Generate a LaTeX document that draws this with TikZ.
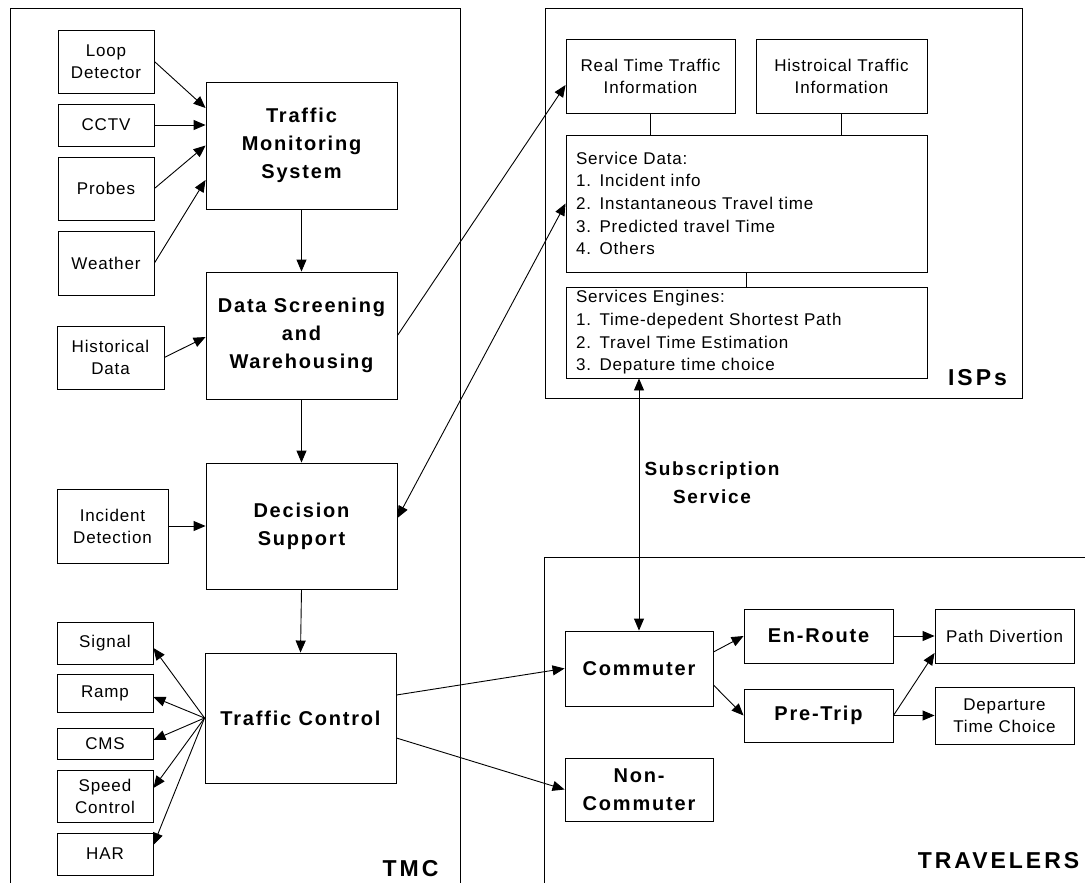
\documentclass[tikz,border=0pt]{standalone}
\usepackage{fontspec}
\setmainfont{Liberation Sans}[LetterSpace=5]
\newfontfamily\titlefont{Liberation Sans}[LetterSpace=9]
\newfontfamily\framefont{Liberation Sans}[LetterSpace=13]
\usetikzlibrary{arrows.meta}

\begin{document}
\begin{tikzpicture}[x=1pt, y=-1pt, >={Triangle[length=12pt,width=10pt]}, line width=0.9pt,
  box/.style={draw, align=center, inner sep=0pt, font=\fontsize{17}{22}\selectfont},
  bigbox/.style={draw, align=center, inner sep=0pt, font=\titlefont\bfseries\fontsize{20}{28}\selectfont},
  listbox/.style={draw, align=left, inner xsep=10pt, inner ysep=0pt, text width=341pt, font=\fontsize{17}{22.7}\selectfont},
  framelabel/.style={inner sep=0pt, font=\framefont\bfseries\fontsize{23}{28}\selectfont}]
\useasboundingbox (0,0) rectangle (1085,883);
\draw (10,883) |- (460,8) -- (460,883);
\draw (545,8) rectangle (1022,398);
\draw (544,883) |- (1085,557);
\node[framelabel] (tmclabel) at (410.5,869) {TMC};
\node[framelabel] (isplabel) at (977.5,378) {ISPs};
\node[framelabel] (travlabel) at (998.5,860.5) {TRAVELERS};

\node[box, minimum width=96pt, minimum height=63pt] (loop) at (106,61.5) {Loop\\Detector};
\node[box, minimum width=96pt, minimum height=42pt] (cctv) at (106,125) {CCTV};
\node[box, minimum width=96pt, minimum height=63pt] (probes) at (106,188.5) {Probes};
\node[box, minimum width=96pt, minimum height=64pt] (weather) at (106,263) {Weather};
\node[box, minimum width=107pt, minimum height=63pt] (hist) at (110.5,357.5) {Historical\\Data};
\node[box, minimum width=111pt, minimum height=74pt] (incident) at (112.5,526) {Incident\\Detection};
\node[box, minimum width=96pt, minimum height=42pt] (signal) at (105,643) {Signal};
\node[box, minimum width=96pt, minimum height=38pt] (ramp) at (105,693) {Ramp};
\node[box, minimum width=96pt, minimum height=31pt] (cms) at (105,743.5) {CMS};
\node[box, minimum width=96pt, minimum height=52pt] (speed) at (105,796) {Speed\\Control};
\node[box, minimum width=96pt, minimum height=42pt] (har) at (105,854) {HAR};

\node[bigbox, minimum width=191pt, minimum height=127pt] (tms) at (301.5,145.5) {Traffic\\Monitoring\\System};
\node[bigbox, minimum width=191pt, minimum height=127pt] (dsw) at (301.5,335.5) {Data Screening\\and\\Warehousing};
\node[bigbox, minimum width=191pt, minimum height=126pt] (ds) at (301.5,526) {Decision\\Support};
\node[bigbox, minimum width=191pt, minimum height=130pt] (tc) at (300.5,718) {Traffic Control};

\node[box, minimum width=169pt, minimum height=74pt] (rt) at (650.5,76) {Real Time Traffic\\Information};
\node[box, minimum width=171pt, minimum height=74pt] (hi) at (841.5,76) {Histroical Traffic\\Information};
\node[listbox, minimum height=137pt] (sd) at (746.5,203.5) {Service Data:\\1. Incident info\\2. Instantaneous Travel time\\3. Predicted travel Time\\4. Others};
\node[listbox, minimum height=91pt] (se) at (746.5,332.5) {Services Engines:\\1. Time-depedent Shortest Path\\2. Travel Time Estimation\\3. Depature time choice};

\node[bigbox, minimum width=148pt, minimum height=75pt] (commuter) at (639,668.5) {Commuter};
\node[bigbox, minimum width=148pt, minimum height=63pt] (noncommuter) at (639,789.5) {Non-\\Commuter};
\node[bigbox, minimum width=149pt, minimum height=54pt] (enroute) at (818.5,636) {En-Route};
\node[bigbox, minimum width=149pt, minimum height=53pt] (pretrip) at (818.5,715.5) {Pre-Trip};
\node[box, minimum width=139pt, minimum height=54pt] (pathdiv) at (1004.5,636) {Path Divertion};
\node[box, minimum width=139pt, minimum height=57pt] (departure) at (1004.5,715.5) {Departure\\Time Choice};
\node[align=center, inner sep=0pt, font=\titlefont\bfseries\fontsize{19}{28}\selectfont] (subscr) at (712,483) {Subscription\\Service};

\draw[->] (loop.east) -- ([yshift=37.5pt]tms.west);
\draw[->] (cctv.east) -- (cctv.east -| tms.west);
\draw[->] (probes.east) -- (tms.west);
\draw[->] (weather.east) -- ([yshift=-34.5pt]tms.west);
\draw[->] (hist.east) -- ([yshift=-1.5pt]dsw.west);
\draw[->] (incident.east) -- (ds.west);
\draw[->] (tms.south) -- (dsw.north);
\draw[->] (dsw.south) -- (ds.north);
\draw[->] (ds.south) -- (tc.north);
\draw[->] (tc.west) -- ([yshift=-5pt]signal.east);
\draw[->] (tc.west) -- ([yshift=-4pt]ramp.east);
\draw[->] (tc.west) -- ([yshift=3.5pt]cms.east);
\draw[->] (tc.west) -- ([yshift=8pt]speed.east);
\draw[->] (tc.west) -- ([yshift=9pt]har.east);
\draw[->] (dsw.east) -- ([yshift=-9pt]rt.west);
\draw[<->] ([yshift=8pt]ds.east) -- (sd.west);
\draw (rt.south) -- (rt.south |- sd.north);
\draw (hi.south) -- (hi.south |- sd.north);
\draw (sd.south) -- (se.north);
\draw[<->] (commuter.north |- se.south) -- (commuter.north);
\draw[->] ([yshift=23pt]tc.east) -- (commuter.west);
\draw[->] ([yshift=-20pt]tc.east) -- (noncommuter.west);
\draw[->] ([yshift=16.5pt]commuter.east) -- (enroute.west);
\draw[->] ([yshift=-16.5pt]commuter.east) -- (pretrip.west);
\draw[->] (enroute.east) -- (pathdiv.west);
\draw[->] (pretrip.east) -- ([yshift=-17pt]pathdiv.west);
\draw[->] (pretrip.east) -- (departure.west);
\end{tikzpicture}
\end{document}
